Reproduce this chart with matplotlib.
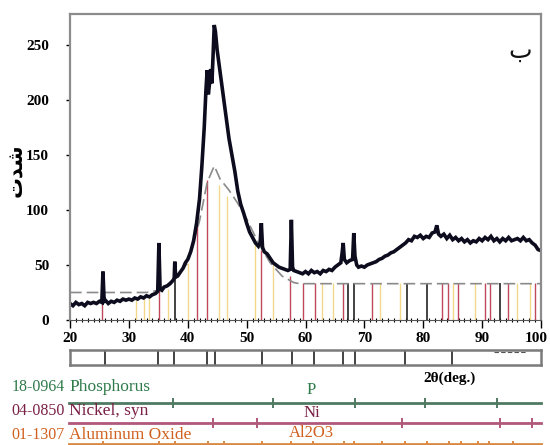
import numpy as np
import matplotlib
matplotlib.use("Agg")
import matplotlib.pyplot as plt
from matplotlib.ticker import MultipleLocator

# measured XRD pattern (2theta, counts)
two_theta = [20, 20.5, 21, 21.5, 22, 22.5, 23, 23.5, 24, 24.5, 25, 25.4, 25.6, 25.8, 26, 26.5,
             27, 27.5, 28, 28.5, 29, 29.5, 30, 30.5, 31, 31.5, 32, 32.5, 33, 33.5, 34, 34.5,
             34.9, 35.1, 35.3, 35.6, 36, 36.5, 37, 37.5, 37.7, 37.8, 37.95, 38.3, 38.8, 39.2,
             39.6, 40, 40.5, 41, 41.5, 42, 42.4, 42.8, 43.1, 43.3, 43.5, 43.7, 43.9, 44.1,
             44.3, 44.5, 44.7, 45, 45.5, 46, 46.5, 47, 47.5, 48, 48.5, 49, 49.5, 50, 50.5,
             51, 51.5, 52, 52.3, 52.5, 52.7, 53, 53.5, 54, 54.5, 55, 55.5, 56, 56.5, 57,
             57.4, 57.6, 57.8, 58, 58.5, 59, 59.5, 60, 60.5, 61, 61.5, 62, 62.5, 63, 63.5,
             64, 64.5, 65, 65.5, 66, 66.2, 66.4, 66.6, 67, 67.5, 68, 68.2, 68.4, 68.7, 69,
             69.5, 70, 70.5, 71, 71.5, 72, 72.5, 73, 73.5, 74, 74.5, 75, 75.5, 76, 76.5,
             77, 77.5, 78, 78.5, 79, 79.5, 80, 80.5, 81, 81.5, 82, 82.3, 82.6, 83, 83.5,
             84, 84.5, 85, 85.5, 86, 86.5, 87, 87.5, 88, 88.5, 89, 89.5, 90, 90.5, 91,
             91.5, 92, 92.5, 93, 93.5, 94, 94.5, 95, 95.5, 96, 96.5, 97, 97.5, 98, 98.5,
             99, 99.5, 100]
counts = [15, 13, 16, 14, 15, 13, 16, 15, 16, 15, 17, 16, 44, 17, 18, 15,
          17, 16, 18, 17, 19, 18, 19, 18, 20, 19, 21, 20, 22, 21, 23, 24,
          26, 70, 28, 27, 30, 31, 33, 36, 38, 53, 39, 40, 44, 47,
          52, 55, 62, 72, 88, 110, 140, 175, 210, 227, 205, 215, 228, 215,
          240, 268, 262, 245, 225, 205, 185, 165, 150, 135, 117, 105, 97, 88, 80,
          75, 70, 67, 70, 88, 66, 62, 60, 56, 52, 50, 48, 47, 46, 45,
          46, 91, 48, 45, 44, 43, 42, 44, 42, 45, 43, 44, 42, 45, 44,
          46, 45, 48, 50, 52, 60, 70, 55, 52, 54, 55, 79, 58, 50, 48,
          49, 48, 50, 51, 52, 53, 55, 56, 58, 59, 61, 62, 64, 66, 68,
          70, 73, 72, 76, 75, 77, 74, 76, 75, 79, 80, 86, 78, 76, 78,
          74, 77, 73, 75, 72, 74, 71, 73, 70, 72, 71, 74, 72, 75, 73,
          76, 72, 74, 71, 74, 72, 75, 72, 73, 74, 72, 75, 72, 73, 70,
          68, 64, 63]

# fitted background / profile (grey dashed)
bg_x = [20, 33, 35, 38, 40, 42, 43.3, 44.5, 45.5, 47, 48.5, 50, 52, 54, 56, 58, 59, 100]
bg_y = [25, 25, 27, 38, 52, 90, 125, 140, 128, 118, 106, 92, 70, 52, 40, 34, 33, 33]

# reference sticks in the main plot
red_x = [25.4, 35.1, 41.6, 43.3, 52.4, 57.3, 59.6, 61.6, 66.4, 71.3, 83.1, 84.2, 85.9,
         90.5, 91.3, 94.4, 99.0]
red_h = [16, 28, 88, 127, 64, 40, 34, 34, 34, 34, 34, 34, 34, 34, 34, 34, 34]
yellow_x = [31.2, 32.5, 33.4, 36.6, 40.0, 45.3, 46.6, 51.4, 54.5, 62.8, 64.7, 72.7, 76.0,
            85.0, 88.8, 95.9, 98.1]
yellow_h = [18, 19, 20, 28, 52, 123, 113, 70, 50, 34, 34, 34, 34, 34, 34, 34, 34]
black_x = [37.8, 67.2, 68.2, 77.2, 80.7, 93.0]
black_h = [50, 34, 34, 34, 34, 34]

# matched peak positions (strip under the axis)
peak_pos = [25.9, 35.0, 37.7, 43.3, 44.6, 52.6, 57.7, 61.4, 66.3, 68.4, 76.9, 84.9]

x_ticks = [20, 30, 40, 50, 60, 70, 80, 90, 100]
y_ticks = [0, 50, 100, 150, 200, 250]

# reference cards
card_ids = ["18-0964", "04-0850", "01-1307"]
card_names = ["Phosphorus", "Nickel, syn", "Aluminum Oxide"]
card_formula = ["P", "Ni", "Al2O3"]
p_ticks = [37.5, 54.5, 68.4, 80.3, 92.5]
ni_ticks = [44.3, 51.7, 76.4, 93.0, 98.5]
al_ticks = [25.6, 35.1, 37.8, 43.4, 46.2, 52.6, 57.5, 61.3, 66.5, 68.2, 73.0, 76.9,
            80.6, 84.4, 86.4, 89.3, 91.2, 95.3]

serif = "Liberation Serif"
W, H = 550, 445
fig = plt.figure(figsize=(5.5, 4.45), dpi=100)

def px_axes(x0, y0, x1, y1):
    return fig.add_axes([x0 / W, 1 - y1 / H, (x1 - x0) / W, (y1 - y0) / H])

# ---- main pattern ----
ax = px_axes(70, 14, 541, 320)
ax.vlines(yellow_x, 0, yellow_h, color="#f2d98a", lw=1.0)
ax.vlines(red_x, 0, red_h, color="#c0485a", lw=1.0)
ax.vlines(black_x, 0, black_h, color="#222222", lw=1.2)
ax.plot(bg_x, bg_y, color="#8a8a8a", lw=1.2, ls=(0, (7, 3)))
ax.plot(two_theta, counts, color="#0c0c1e", lw=2.6, solid_joinstyle="miter")

ax.set_xlim(20, 100)
ax.set_ylim(0, 278)
ax.set_xticks(x_ticks)
ax.set_xticklabels([str(t) for t in x_ticks[:-1]] + [""])
ax.xaxis.set_minor_locator(MultipleLocator(1))
ax.set_yticks(y_ticks)
ax.tick_params(axis="x", which="major", length=6, width=1, direction="out", pad=3)
ax.tick_params(axis="x", which="minor", length=3, width=0.8, direction="inout")
ax.tick_params(axis="y", which="major", length=3, width=1, direction="out", pad=12)
for lab in ax.get_xticklabels() + ax.get_yticklabels():
    lab.set_fontfamily(serif)
    lab.set_fontweight("bold")
    lab.set_fontsize(11)
# last x label shifted left so it stays inside the picture
ax.annotate(str(x_ticks[-1]), xy=(x_ticks[-1], 0), xytext=(5, -9),
            textcoords="offset points", ha="right", va="top", fontsize=11,
            fontweight="bold", family=serif, annotation_clip=False)
for s in ["top", "right", "left"]:
    ax.spines[s].set_color("#8c8c8c")
    ax.spines[s].set_linewidth(1.6)
ax.spines["bottom"].set_color("#555555")

# y label "شدت" in shaped presentation forms
fig.text(16 / W, 1 - 170 / H, "\uFE95\uFEAA\uFEB7", rotation=90, ha="center",
         va="center", fontsize=15, fontweight="bold", family="DejaVu Sans")
ax.text(0.955, 0.88, "\u0628", transform=ax.transAxes, ha="center", va="center",
        fontsize=18, family="DejaVu Sans", color="#111111")

# ---- strip with matched peaks ----
st = px_axes(70, 350, 541, 365)
st.vlines(peak_pos, 0, 1, color="#222222", lw=1.2)
st.plot([92, 97.5], [0.85, 0.85], color="#555555", lw=0.8, ls=(0, (4, 2)))
st.set_xlim(20, 100)
st.set_ylim(0, 1)
st.set_xticks([])
st.set_yticks([])
for s in st.spines.values():
    s.set_color("#7a7a7a")
    s.set_linewidth(1.8)

fig.text(423 / W, 1 - 378 / H, "2\u03b8(deg.)", ha="left", va="center",
         fontsize=11, fontweight="bold", family=serif)

# ---- reference cards ----
rf = px_axes(70, 370, 541, 445)
rf.set_xlim(20, 100)
rf.set_ylim(445, 370)
rf.axis("off")

line_y = [403, 423, 444]
text_y = [387, 411, 435]
form_y = [390, 413, 433]
text_col = ["#2f7a4a", "#7a1f45", "#d0601e"]
line_col = ["#4f7a62", "#b0587a", "#d88a44"]
tick_sets = [p_ticks, ni_ticks, al_ticks]
tick_len = [5, 5, 3]
x_start = 20 + (69 - 70) / 5.89
x_id = 20 + (65 - 70) / 5.89
for i in range(3):
    rf.plot([x_start, 100], [line_y[i], line_y[i]], color=line_col[i], lw=2.0,
            clip_on=False)
    rf.vlines(tick_sets[i], line_y[i] - tick_len[i], line_y[i] + tick_len[i],
              color=line_col[i], lw=1.4, clip_on=False)
    rf.text(x_id, text_y[i], card_ids[i], ha="right", va="center", fontsize=11.5,
            color=text_col[i], family=serif, clip_on=False)
    rf.text(x_start, text_y[i], card_names[i], ha="left", va="center", fontsize=12.5,
            color=text_col[i], family=serif, clip_on=False)
    rf.text(61, form_y[i], card_formula[i], ha="center", va="center", fontsize=12,
            color=text_col[i], family=serif, clip_on=False)

fig.savefig("out.png", dpi=100)
